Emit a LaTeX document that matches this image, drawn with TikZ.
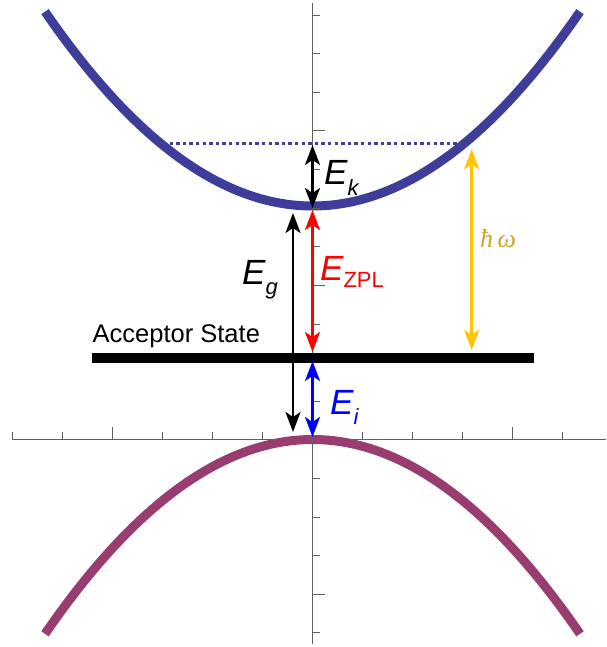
\documentclass[tikz,border=0pt]{standalone}
\usepackage{fontspec}
\setmainfont{Liberation Sans}
\newfontfamily\hbarfont{Liberation Serif}
\usetikzlibrary{arrows.meta}
\definecolor{cband}{RGB}{62,61,153}
\definecolor{vband}{RGB}{153,61,113}
\definecolor{axgray}{RGB}{95,95,95}
\definecolor{goldarrow}{RGB}{255,197,0}
\definecolor{goldtext}{RGB}{205,165,40}
\newcommand\sbx[2][-10pt]{\raisebox{#1}{\fontsize{22}{22}\selectfont #2}}
\begin{document}
\begin{tikzpicture}[x=1pt,y=-1pt,
  band/.style={line width=9pt},
  axisline/.style={draw=axgray, line width=1.2pt},
  tickmark/.style={draw=axgray, line width=1pt},
  dbl/.style={line width=2.6pt, {Stealth[length=20pt,width=15pt,inset=5pt]}-{Stealth[length=20pt,width=15pt,inset=5pt]}},
  elabel/.style={anchor=base west, inner sep=0pt, font=\fontsize{35}{35}\selectfont\itshape}
]
\useasboundingbox (0,0) rectangle (606,647);

% bands
\draw[band, cband] plot[domain=45:580, samples=120] (\x, {206 - 0.002711*(\x-312.5)*(\x-312.5)});
\draw[band, vband] plot[domain=45:580, samples=120] (\x, {439.5 + 0.002711*(\x-312.5)*(\x-312.5)});

% dotted level
\coordinate (dotL) at (163,143.3);
\coordinate (dotR) at (465,143.3);
\draw[cband, line width=3pt, dash pattern=on 3.3pt off 3.3pt] (dotL) -- (dotR);

% axes
\coordinate (xaxL) at (12,439.5);
\coordinate (xaxR) at (606,439.5);
\coordinate (yaxT) at (312.5,2.7);
\coordinate (yaxB) at (312.5,644);
\draw[axisline] (xaxL) -- (xaxR);
\draw[axisline] (yaxT) -- (yaxB);
\foreach \i in {0,1,3,4,5,7,8,9,11} {
  \draw[tickmark] (12.5+50*\i,439.5) -- ++(0,-7.7);
}
\foreach \i in {2,10} {
  \draw[tickmark] (12.5+50*\i,439.5) -- ++(0,-12.7);
}
\foreach \j in {-5,-3,-2,-1,1,2,3,5,6,7,9,10,11} {
  \draw[tickmark] (312.5,439.8-38.6*\j) -- ++(7.7,0);
}
\foreach \j in {-4,4,8} {
  \draw[tickmark] (312.5,439.8-38.6*\j) -- ++(12.7,0);
}

% acceptor state
\coordinate (accL) at (91.7,357.7);
\coordinate (accR) at (534,357.7);
\draw[line width=10pt, black] (accL) -- (accR);
\node[anchor=base west, inner sep=0pt, font=\fontsize{25.5}{25.5}\selectfont] (acclabel) at (92.5,342.7) {Acceptor State};

% arrows
\coordinate (ekT) at (312.5,145);
\coordinate (ekB) at (312.5,208);
\draw[dbl, black] (ekT) -- (ekB);
\node[elabel] (eklabel) at (324,185) {E\sbx{k}};

\coordinate (egT) at (293,213);
\coordinate (egB) at (293,432);
\draw[dbl, black] (egT) -- (egB);
\node[elabel] (eglabel) at (242,284) {E\sbx{g}};

\coordinate (zplT) at (312.5,210);
\coordinate (zplB) at (312.5,352);
\draw[dbl, red] (zplT) -- (zplB);
\node[elabel, text=red] (zpllabel) at (320,280) {E\sbx[-7pt]{\upshape ZPL}};

\coordinate (eiT) at (312.5,361);
\coordinate (eiB) at (312.5,437);
\draw[dbl, blue] (eiT) -- (eiB);
\node[elabel, text=blue] (eilabel) at (330,414) {E\sbx{i}};

\coordinate (hwT) at (471.7,149.3);
\coordinate (hwB) at (471.7,350);
\draw[dbl, goldarrow] (hwT) -- (hwB);
\node[anchor=base west, inner sep=0pt, text=goldtext, font=\hbarfont\itshape\fontsize{26}{26}\selectfont] (hwlabel) at (480,247) {ħ\,ω};
\end{tikzpicture}
\end{document}
